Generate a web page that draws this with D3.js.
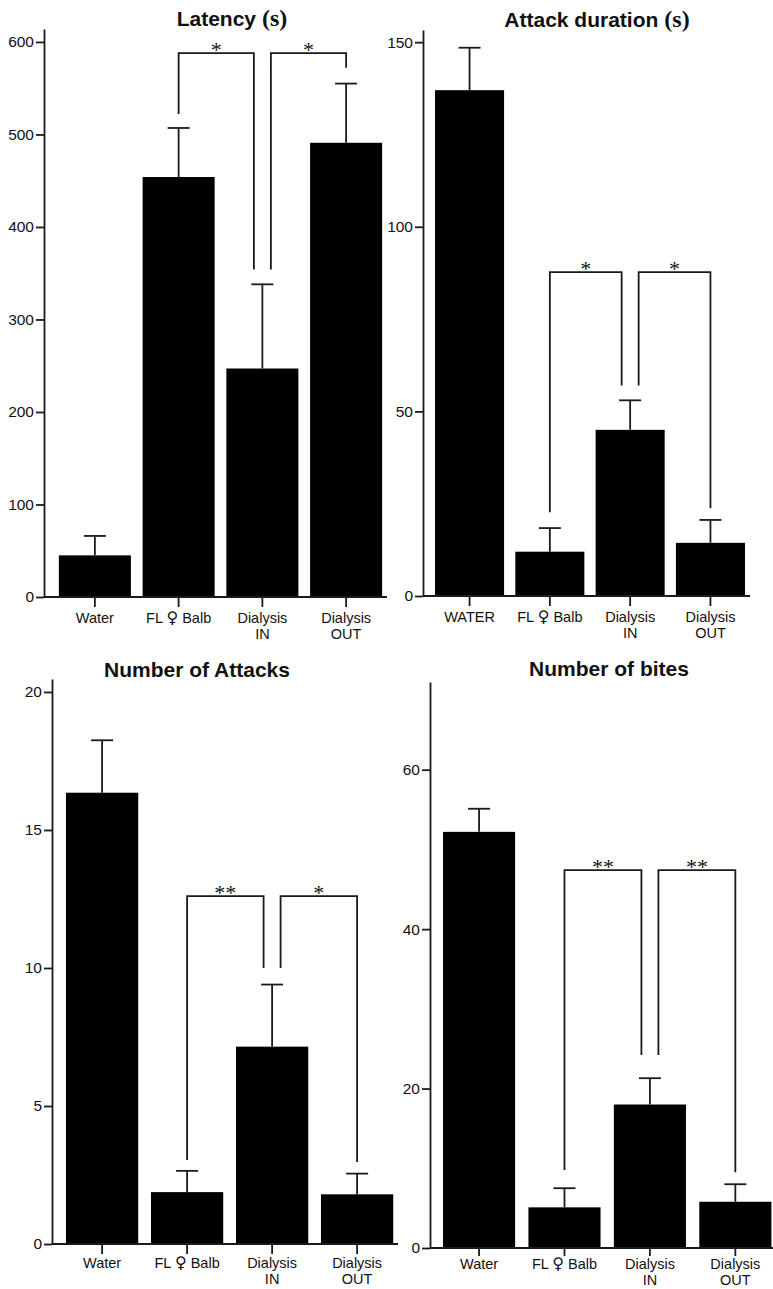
<!DOCTYPE html>
<html lang="en">
<head>
<meta charset="UTF-8">
<title>Latency, attack duration, attacks and bites</title>
<script src="https://d3js.org/d3.v7.min.js"></script>
<style>
    body { margin: 0; background: #fff; }
    svg text { font-family: "Liberation Sans", Arial, sans-serif; fill: #111; }
</style>
</head>
<body>
<svg id="chart" width="773" height="1289"></svg>
<script>
// categories and values
var groups = ["Water", "FL \u2640 Balb", "Dialysis\nIN", "Dialysis\nOUT"];
var groupsUpper = ["WATER", "FL \u2640 Balb", "Dialysis\nIN", "Dialysis\nOUT"];

var latencyMean = [45, 454, 247, 491];
var latencySem = [21, 53, 91, 64];
var latencyTicks = [0, 100, 200, 300, 400, 500, 600];

var durationMean = [137, 12, 45, 14.4];
var durationSem = [11.5, 6.4, 8, 6.2];
var durationTicks = [0, 50, 100, 150];

var attacksMean = [16.35, 1.88, 7.15, 1.8];
var attacksSem = [1.9, 0.77, 2.25, 0.75];
var attacksTicks = [0, 5, 10, 15, 20];

var bitesMean = [52.2, 5.1, 18, 5.8];
var bitesSem = [2.9, 2.4, 3.3, 2.2];
var bitesTicks = [0, 20, 40, 60];

// significance brackets: from/to group, top level, leg ends, label
var latencySig = [
    { from: 1, to: 2, top: 588, legs: [522, 354], label: "*" },
    { from: 2, to: 3, top: 588, legs: [354, 572], label: "*" }
];
var durationSig = [
    { from: 1, to: 2, top: 87.7, legs: [22.7, 57], label: "*" },
    { from: 2, to: 3, top: 87.7, legs: [57, 23.8], label: "*" }
];
var attacksSig = [
    { from: 1, to: 2, top: 12.6, legs: [3.04, 10.0], label: "**" },
    { from: 2, to: 3, top: 12.6, legs: [10.0, 2.97], label: "*" }
];
var bitesSig = [
    { from: 1, to: 2, top: 47.4, legs: [9.8, 24.2], label: "**" },
    { from: 2, to: 3, top: 47.4, legs: [24.2, 9.5], label: "**" }
];

var svg = d3.select("#chart");
var ink = "#1a1a1a";

function drawPanel(p) {
    var g = svg.append("g");

    var x = d3.scaleBand().domain(p.cats).range(p.xRange)
        .paddingInner(p.padIn).paddingOuter(p.padOut);
    var y = d3.scaleLinear().domain([0, p.yMax]).range([p.yBase, p.yTop]);

    // bars
    g.selectAll("rect.bar").data(p.mean).enter().append("rect")
        .attr("class", "bar")
        .attr("x", function(d, i) { return x(p.cats[i]); })
        .attr("width", x.bandwidth())
        .attr("y", function(d) { return y(d); })
        .attr("height", function(d) { return y(0) - y(d); })
        .attr("fill", "#000");

    // error bars (upper only)
    var cx = function(i) { return x(p.cats[i]) + x.bandwidth() / 2; };
    var eb = g.selectAll("g.err").data(p.mean).enter().append("g").attr("class", "err");
    eb.append("line")
        .attr("x1", function(d, i) { return cx(i); })
        .attr("x2", function(d, i) { return cx(i); })
        .attr("y1", function(d) { return y(d); })
        .attr("y2", function(d, i) { return y(d + p.sem[i]); })
        .attr("stroke", ink).attr("stroke-width", 1.8);
    eb.append("line")
        .attr("x1", function(d, i) { return cx(i) - 11; })
        .attr("x2", function(d, i) { return cx(i) + 11; })
        .attr("y1", function(d, i) { return y(d + p.sem[i]); })
        .attr("y2", function(d, i) { return y(d + p.sem[i]); })
        .attr("stroke", ink).attr("stroke-width", 1.8);

    // y axis
    var ya = g.append("g").attr("transform", "translate(" + p.axisX + ",0)")
        .call(d3.axisLeft(y).tickValues(p.ticks).tickSize(8).tickSizeOuter(0).tickPadding(2));
    ya.select(".domain").attr("stroke", ink).attr("stroke-width", 1.8);
    ya.selectAll(".tick line").attr("stroke", ink).attr("stroke-width", 1.8);
    ya.selectAll(".tick text").style("font-size", "15.5px").attr("fill", "#111");

    // x axis
    var xa = g.append("g").attr("transform", "translate(0," + p.yBase + ")")
        .call(d3.axisBottom(x).tickSize(p.tickLen).tickSizeOuter(0).tickPadding(p.tickPad).tickFormat(""));
    xa.select(".domain").remove();
    xa.selectAll(".tick line").attr("stroke", ink).attr("stroke-width", 1.8);
    xa.selectAll(".tick").each(function(d) {
        var t = d3.select(this).select("text").style("font-size", "14.5px").attr("fill", "#111");
        var parts = d.split("\n");
        parts.forEach(function(s, k) {
            var ts = t.append("tspan").attr("x", 0).attr("dy", k === 0 ? "0.71em" : "1.1em");
            if (s.indexOf("\u2640") >= 0) {
                var bits = s.split("\u2640");
                ts.text(bits[0]);
                t.append("tspan")
                    .style("font-family", "'DejaVu Sans', sans-serif")
                    .style("font-size", "16px")
                    .text("\u2640");
                t.append("tspan").text(bits[1]);
            } else {
                ts.text(s);
            }
        });
    });
    g.append("line")
        .attr("x1", p.axisX).attr("x2", p.xEnd)
        .attr("y1", p.yBase).attr("y2", p.yBase)
        .attr("stroke", ink).attr("stroke-width", 1.8);

    // significance brackets
    p.sig.forEach(function(s) {
        var xl = cx(s.from) + (s.from === 2 ? 8.5 : 0);
        var xr = cx(s.to) - (s.to === 2 ? 8.5 : 0);
        var path = d3.path();
        path.moveTo(xl, y(s.legs[0]));
        path.lineTo(xl, y(s.top));
        path.lineTo(xr, y(s.top));
        path.lineTo(xr, y(s.legs[1]));
        g.append("path").attr("d", path.toString())
            .attr("fill", "none").attr("stroke", ink).attr("stroke-width", 1.8);
        g.append("text")
            .attr("x", (xl + xr) / 2).attr("y", y(s.top) + 4)
            .attr("text-anchor", "middle")
            .style("font-family", "'Liberation Serif', 'Times New Roman', serif")
            .style("font-size", "22px")
            .text(s.label);
    });

    // title
    var tt = g.append("text")
        .attr("x", p.titleX).attr("y", p.titleY)
        .attr("text-anchor", "middle")
        .style("font-size", "21px").style("font-weight", "bold");
    tt.append("tspan").text(p.title);
    if (p.unit) {
        tt.append("tspan")
            .style("font-family", "'Liberation Serif', 'Times New Roman', serif")
            .style("font-size", "24px")
            .text(" " + p.unit);
    }
}

drawPanel({
    cats: groups, mean: latencyMean, sem: latencySem, ticks: latencyTicks, sig: latencySig,
    title: "Latency", unit: "(s)", titleX: 232, titleY: 26,
    xRange: [53, 388], padIn: 0.14, padOut: 0.07, axisX: 44, xEnd: 387,
    yMax: 614, yBase: 597, yTop: 29, tickLen: 10, tickPad: 6
});
drawPanel({
    cats: groupsUpper, mean: durationMean, sem: durationSem, ticks: durationTicks, sig: durationSig,
    title: "Attack duration", unit: "(s)", titleX: 597, titleY: 27,
    xRange: [429.4, 750.6], padIn: 0.14, padOut: 0.07, axisX: 423, xEnd: 750,
    yMax: 153.3, yBase: 596, yTop: 30, tickLen: 10, tickPad: 6
});
drawPanel({
    cats: groups, mean: attacksMean, sem: attacksSem, ticks: attacksTicks, sig: attacksSig,
    title: "Number of Attacks", unit: null, titleX: 197, titleY: 677,
    xRange: [59.6, 399.6], padIn: 0.15, padOut: 0.075, axisX: 52, xEnd: 398,
    yMax: 20.47, yBase: 1244, yTop: 679, tickLen: 10, tickPad: 4
});
drawPanel({
    cats: groups, mean: bitesMean, sem: bitesSem, ticks: bitesTicks, sig: bitesSig,
    title: "Number of bites", unit: null, titleX: 609, titleY: 676,
    xRange: [436.6, 777.8], padIn: 0.156, padOut: 0.075, axisX: 430, xEnd: 773,
    yMax: 71, yBase: 1248, yTop: 682, tickLen: 8, tickPad: 3
});
</script>
</body>
</html>
